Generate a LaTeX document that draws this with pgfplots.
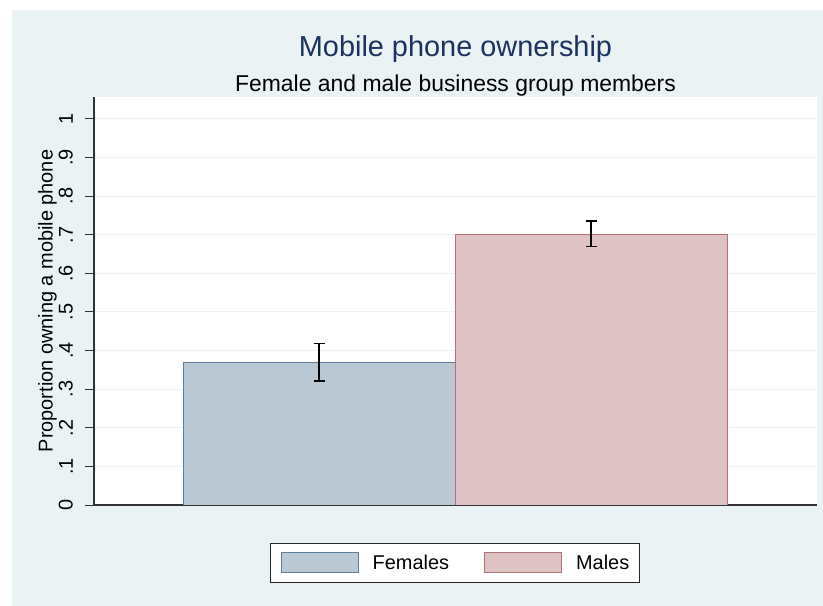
\documentclass[border=0pt]{standalone}
\usepackage{fontspec}
\setmainfont{Liberation Sans}
\usepackage{pgfplots}
\pgfplotsset{compat=1.18}

\definecolor{bgcol}{RGB}{234,242,243}
\definecolor{axiscol}{RGB}{50,50,50}
\definecolor{titlecol}{RGB}{28,50,96}
\definecolor{femfill}{RGB}{186,200,212}
\definecolor{femedge}{RGB}{95,126,154}
\definecolor{malfill}{RGB}{222,194,196}
\definecolor{maledge}{RGB}{177,114,118}

\begin{document}
\begin{tikzpicture}
  % page and graph region
  \fill[white] (0bp,0bp) rectangle (823bp,606bp);
  \fill[bgcol] (12bp,0bp) rectangle (823bp,596bp);

  \node[anchor=base, text=titlecol, font=\fontsize{29}{31}\selectfont]
    at (455.5bp,549bp) {Mobile phone ownership};
  \node[anchor=base, font=\fontsize{23}{25}\selectfont]
    at (455.5bp,514.5bp) {Female and male business group members};

  \begin{axis}[
      at={(94bp,101bp)}, anchor=south west,
      scale only axis, width=723bp, height=408bp,
      xmin=0, xmax=723, ymin=0, ymax=1.057,
      axis background/.style={fill=white},
      axis x line=bottom, axis y line=left,
      axis line style={-, line width=1.2bp, color=axiscol},
      xtick=\empty,
      ytick={0,0.1,0.2,0.3,0.4,0.5,0.6,0.7,0.8,0.9,1},
      yticklabels={\mbox{0},\mbox{.1},\mbox{.2},\mbox{.3},\mbox{.4},\mbox{.5},\mbox{.6},\mbox{.7},\mbox{.8},\mbox{.9},\mbox{1}},
      tick align=outside, major tick length=9bp,
      tick style={line width=1bp, color=axiscol},
      yticklabel shift=12bp,
      yticklabel style={rotate=90, anchor=south, inner sep=0pt,
        font=\fontsize{20}{22}\selectfont},
      ymajorgrids, grid style={line width=1bp, color=bgcol},
      every axis y label/.style={at={(axis description cs:-0.0571,0.5)},
        rotate=90, anchor=base, font=\fontsize{20}{22}\selectfont},
      ylabel={Proportion owning a mobile phone},
      legend columns=2,
      legend cell align=left,
      legend style={at={(axis description cs:0.4993,-0.142)}, anchor=center,
        draw=black!85, line width=1bp, fill=white,
        inner xsep=10bp, inner ysep=9bp,
        font=\fontsize{20}{22}\selectfont,
        nodes={inner sep=0pt},
        /tikz/every odd column/.style={column sep=14bp},
        /tikz/every even column/.style={column sep=35bp}},
    ]
    \addplot[ybar, bar width=272, bar shift=0pt,
      fill=femfill, draw=femedge, line width=1bp,
      legend image code/.code={\draw[fill=femfill, draw=femedge, line width=1bp]
        (0bp,-10bp) rectangle (77bp,10bp);},
      error bars/.cd, y dir=both, y explicit,
      error bar style={line width=1.5bp, black},
      error mark options={rotate=90, mark size=5.5bp, line width=1.5bp, black}]
      coordinates {(225,0.369) += (0,0.050) -= (0,0.048)};
    \addlegendentry{Females}
    \addplot[ybar, bar width=272, bar shift=0pt,
      fill=malfill, draw=maledge, line width=1bp,
      legend image code/.code={\draw[fill=malfill, draw=maledge, line width=1bp]
        (0bp,-10bp) rectangle (77bp,10bp);},
      error bars/.cd, y dir=both, y explicit,
      error bar style={line width=1.5bp, black},
      error mark options={rotate=90, mark size=5.5bp, line width=1.5bp, black}]
      coordinates {(497,0.701) += (0,0.035) -= (0,0.031)};
    \addlegendentry{Males}
  \end{axis}
\end{tikzpicture}
\end{document}
